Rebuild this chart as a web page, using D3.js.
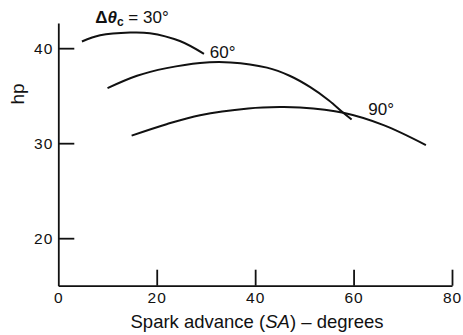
<!DOCTYPE html>
<html>
<head>
<meta charset="utf-8">
<script src="https://cdn.jsdelivr.net/npm/d3@7"></script>
<style>
  body { margin: 0; background: #fff; }
  svg { display: block; font-family: "Liberation Sans", Arial, Helvetica, sans-serif; }
</style>
</head>
<body>
<script>
// hp vs spark advance for three combustion durations
const sparkAdvance30 = [4.8, 8.5, 14.6, 18.6, 24.7, 29.6];
const hp30 = [40.7, 41.35, 41.65, 41.58, 40.75, 39.4];

const sparkAdvance60 = [10, 16, 22, 28.8, 35, 42.4, 47, 51.2, 55, 57.9, 59.6];
const hp60 = [35.8, 37.1, 37.9, 38.45, 38.5, 37.95, 37.1, 35.9, 34.5, 33.2, 32.5];

const sparkAdvance90 = [14.9, 22, 28.8, 38.6, 45, 49.1, 57.9, 66.1, 74.7];
const hp90 = [30.8, 32.0, 32.95, 33.65, 33.8, 33.75, 33.2, 31.9, 29.8];

const xTicks = [0, 20, 40, 60, 80];
const yTicks = [20, 30, 40];

// curve labels: [SA, hp] where each label starts
const labelPos = [[7.5, 42.6], [30.8, 38.95], [63, 32.98]];

const width = 463, height = 335;

const svg = d3.select("body").append("svg")
  .attr("width", width)
  .attr("height", height);

const x = d3.scaleLinear().domain([0, 80]).range([58.3, 452]);
const y = d3.scaleLinear().domain([15, 42.65]).range([285.7, 23]);

// x axis (ticks point inward)
const xAxis = svg.append("g")
  .attr("transform", `translate(0,${y(15)})`)
  .call(d3.axisBottom(x).tickValues(xTicks).tickSizeInner(-16).tickSizeOuter(0).tickPadding(6));

// y axis
const yAxis = svg.append("g")
  .attr("transform", `translate(${x(0)},0)`)
  .call(d3.axisLeft(y).tickValues(yTicks).tickSizeInner(-16).tickSizeOuter(0).tickPadding(5));

[xAxis, yAxis].forEach(g => {
  g.select(".domain").attr("stroke", "#111").attr("stroke-width", 1.8);
  g.selectAll(".tick line").attr("stroke", "#111").attr("stroke-width", 1.8);
  g.selectAll(".tick text")
    .attr("fill", "#111")
    .style("font-size", "15.5px")
    .style("letter-spacing", "1px");
});
xAxis.selectAll(".tick").filter(d => d === 0).select("line").remove();

// axis titles
svg.append("text")
  .attr("x", 257)
  .attr("y", 328)
  .attr("text-anchor", "middle")
  .style("font-size", "18.5px")
  .attr("fill", "#111")
  .html('Spark advance (<tspan font-style="italic">SA</tspan>) – degrees');

svg.append("text")
  .attr("transform", "translate(24,94) rotate(-90)")
  .attr("text-anchor", "middle")
  .style("font-size", "19px")
  .attr("fill", "#111")
  .text("hp");

// curves
const line = d3.line()
  .x(d => x(d[0]))
  .y(d => y(d[1]))
  .curve(d3.curveCatmullRom.alpha(0.5));

const series = [
  d3.zip(sparkAdvance30, hp30),
  d3.zip(sparkAdvance60, hp60),
  d3.zip(sparkAdvance90, hp90)
];

svg.selectAll(".curve")
  .data(series)
  .enter()
  .append("path")
  .attr("class", "curve")
  .attr("d", line)
  .attr("fill", "none")
  .attr("stroke", "#111")
  .attr("stroke-width", 2);

// labels
const lab = svg.append("g").style("font-size", "17px").attr("fill", "#111");

const t30 = lab.append("text")
  .attr("x", x(labelPos[0][0]))
  .attr("y", y(labelPos[0][1]));
t30.append("tspan").attr("font-weight", "bold").text("Δ");
t30.append("tspan").attr("font-style", "italic").attr("font-weight", "bold").text("θ");
t30.append("tspan").attr("font-size", "12px").attr("dy", 3).attr("font-weight", "bold").text("c");
t30.append("tspan").attr("dy", -3).text(" = 30°");

lab.append("text")
  .attr("x", x(labelPos[1][0]))
  .attr("y", y(labelPos[1][1]))
  .text("60°");

lab.append("text")
  .attr("x", x(labelPos[2][0]))
  .attr("y", y(labelPos[2][1]))
  .text("90°");
</script>
</body>
</html>
